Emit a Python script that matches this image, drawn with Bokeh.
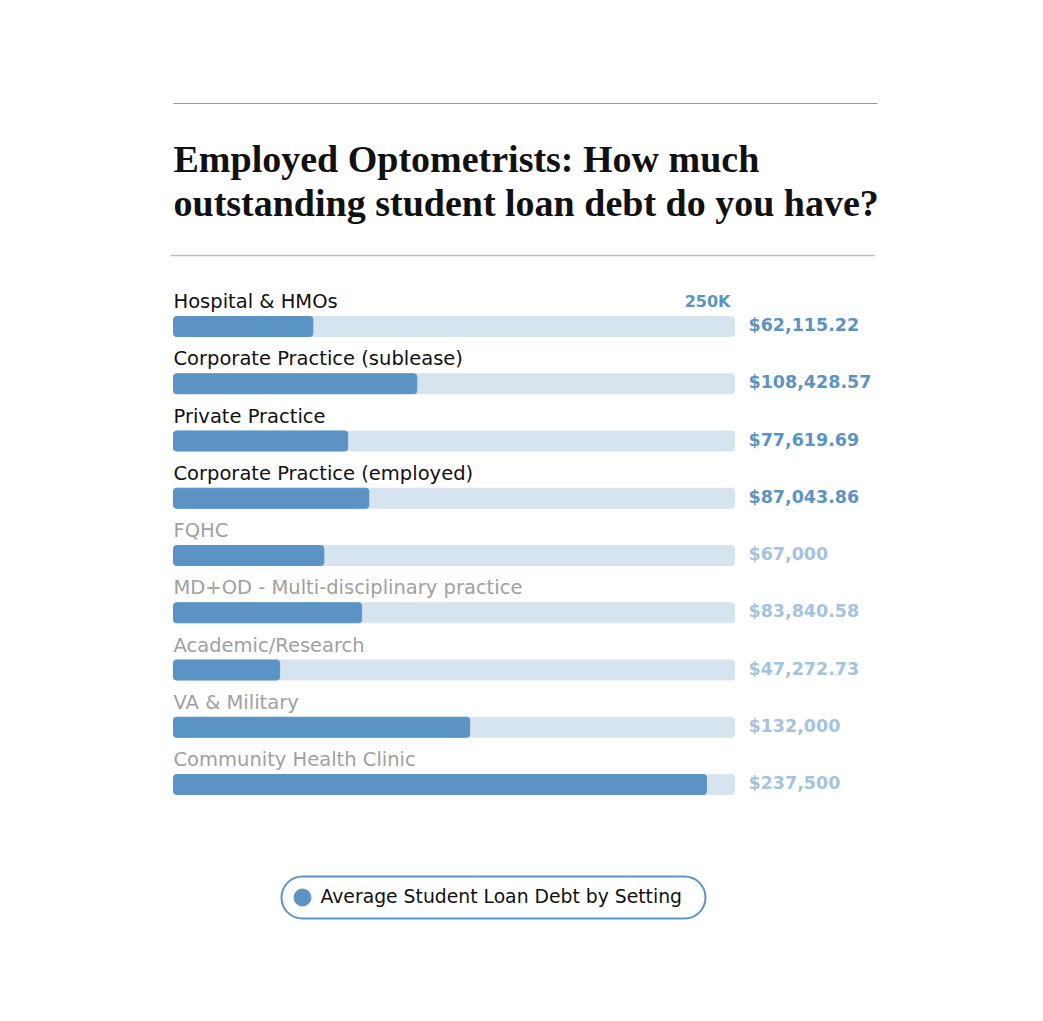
from bokeh.plotting import figure
from bokeh.models import Range1d, ColumnDataSource
from bokeh.core.properties import value
from bokeh.embed import file_html
from bokeh.resources import INLINE

# ---- data ----
categories = [
    "Hospital & HMOs",
    "Corporate Practice (sublease)",
    "Private Practice",
    "Corporate Practice (employed)",
    "FQHC",
    "MD+OD - Multi-disciplinary practice",
    "Academic/Research",
    "VA & Military",
    "Community Health Clinic",
]
debt = [62115.22, 108428.57, 77619.69, 87043.86, 67000, 83840.58, 47272.73, 132000, 237500]
value_labels = ["$62,115.22", "$108,428.57", "$77,619.69", "$87,043.86", "$67,000",
                "$83,840.58", "$47,272.73", "$132,000", "$237,500"]
axis_max = 250000
axis_max_label = "250K"
title_lines = ["Employed Optometrists: How much", "outstanding student loan debt do you have?"]
legend_label = "Average Student Loan Debt by Setting"
faded = [False, False, False, False, True, True, True, True, True]

# ---- layout (pixels) ----
W, H = 1043, 1021
X0, X1 = 173, 734            # track pixel extent = 0 .. axis_max
PX = axis_max / (X1 - X0)    # data units per pixel

def dx(px):
    return (px - X0) * PX

BLUE = "#5b94c4"
TRACK = "#d6e4ef"
SANS = "DejaVu Sans"

p = figure(width=W, height=H, output_backend="svg", toolbar_location=None,
           x_range=Range1d(dx(0), dx(W)), y_range=Range1d(H, 0),
           min_border=0, outline_line_color=None)
p.xaxis.visible = False
p.yaxis.visible = False
p.xgrid.visible = False
p.ygrid.visible = False
p.background_fill_color = "white"

row0, step = 326, 57.25
ys = [row0 + i * step for i in range(len(categories))]

src = ColumnDataSource(dict(
    y=ys, cat=categories, val=debt, vlab=value_labels,
    full=[axis_max] * len(debt),
    lab_y=[y - 25 for y in ys],
    val_y=[y - 1.5 for y in ys],
    lab_col=["#a0a0a0" if f else "#111111" for f in faded],
    val_col=["#a3c3de" if f else BLUE for f in faded],
))

# rules
p.segment(x0=[dx(173)], x1=[dx(877)], y0=[103], y1=[103], line_color="#9a9a9a", line_width=1.2)
p.segment(x0=[dx(170)], x1=[dx(874)], y0=[255], y1=[255], line_color="#bdbdbd", line_width=1.5)

# title
p.text(x=[dx(173)] * 2, y=[158, 202], text=title_lines,
       text_font=value("Liberation Serif"), text_font_style="bold",
       text_font_size="38px", text_color="#111111", text_baseline="middle")

# tracks and bars
p.hbar(y="y", left=0, right="full", height=20, source=src, color=TRACK, border_radius=3)
p.hbar(y="y", left=0, right="val", height=20, source=src, color=BLUE, border_radius=3)

# category labels
p.text(x=dx(173), y="lab_y", text="cat", source=src, text_font=value(SANS),
       text_font_size="19.5px", text_color="lab_col", text_baseline="middle")

# value labels
p.text(x=dx(748), y="val_y", text="vlab", source=src, text_font=value(SANS),
       text_font_style="bold", text_font_size="17.5px", text_color="val_col",
       text_baseline="middle")

# axis max label
p.text(x=[axis_max - 4 * PX], y=[301], text=[axis_max_label], text_font=value(SANS),
       text_font_style="bold", text_font_size="16px", text_color=BLUE,
       text_align="right", text_baseline="middle")

# legend
p.rect(x=[dx(493)], y=[897], width=424 * PX, height=42, fill_color="white",
       line_color=BLUE, line_width=2, border_radius=21)
p.scatter(x=[dx(302)], y=[897], size=17, color=BLUE)
p.text(x=[dx(320)], y=[896], text=[legend_label], text_font=value(SANS),
       text_font_size="18.8px", text_color="#111111", text_baseline="middle")

open("out.html", "w").write(file_html(p, INLINE))
